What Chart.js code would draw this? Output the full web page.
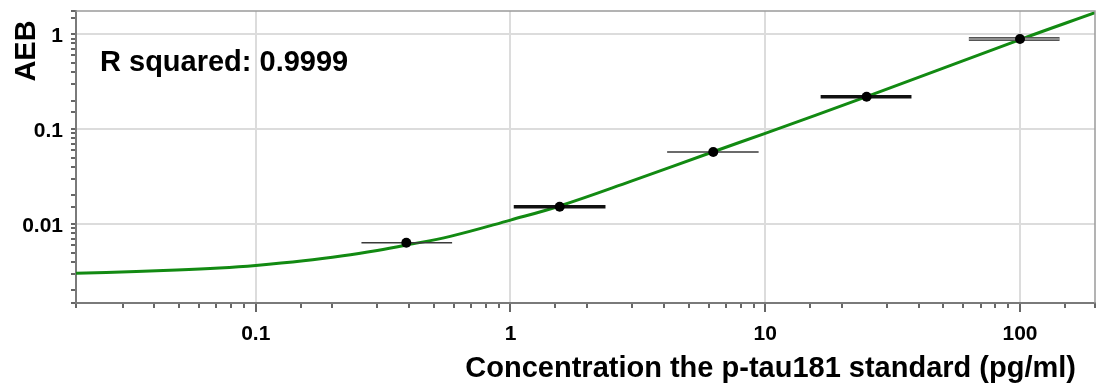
<!DOCTYPE html>
<html>
<head>
<meta charset="utf-8">
<script src="https://cdn.jsdelivr.net/npm/chart.js@4.4.1/dist/chart.umd.min.js"></script>
<style>
    html, body { margin: 0; padding: 0; background: #fff; }
    canvas { display: block; }
</style>
</head>
<body>
<canvas id="stdCurve" width="1096" height="392"></canvas>
<script>
// standard concentrations (pg/ml) and measured AEB
const concentrations = [0.39, 1.56, 6.25, 25, 100];
const aeb = [0.00635, 0.0152, 0.0574, 0.220, 0.892];
// horizontal error bars, low / high concentration
const errLow = [0.26, 1.03, 4.12, 16.5, 63];
const errHigh = [0.59, 2.36, 9.42, 37.5, 143];

// fitted curve
const fitX = [0.0197, 0.034, 0.049, 0.072, 0.1, 0.154, 0.22, 0.30, 0.39, 0.58, 1.0, 1.56, 3.0, 6.25, 10, 25, 100, 197];
const fitY = [0.00302, 0.00316, 0.00327, 0.00344, 0.00366, 0.00409, 0.00462, 0.00527, 0.00600, 0.00741, 0.0110, 0.0155, 0.0285, 0.0578, 0.0904, 0.220, 0.880, 1.69];

const xTickLabels = ['0.1', '1', '10', '100'];
const yTickLabels = ['0.01', '0.1', '1'];
const rSquared = 'R squared: 0.9999';
const xTitle = 'Concentration the p-tau181 standard (pg/ml)';
const yTitle = 'AEB';

const FONT = 'Arial, "Liberation Sans", sans-serif';

function isDecade(v) {
    const l = Math.log10(v);
    return Math.abs(l - Math.round(l)) < 1e-6;
}
function decadeLabel(v, list) {
    if (!isDecade(v)) return '';
    const e = Math.round(Math.log10(v));
    const txt = e >= 0 ? String(Math.pow(10, e)) : Math.pow(10, e).toFixed(-e);
    return list.includes(txt) ? txt : '';
}

// error bar look per standard (thin, thick, thin, thick, doubled)
const barStyle = [
    { color: '#3a3a3a', width: 1.5 },
    { color: '#111111', width: 3.5 },
    { color: '#3a3a3a', width: 1.5 },
    { color: '#111111', width: 3.5 },
    { color: '#555555', width: 4 }
];

const datasets = [];
datasets.push({
    label: 'standards',
    data: concentrations.map((c, i) => ({ x: c, y: aeb[i] })),
    backgroundColor: '#000',
    borderWidth: 0,
    pointRadius: 5,
    showLine: false
});
// inner light stroke for the doubled bar at 100 pg/ml
datasets.push({
    label: 'bar5inner',
    data: [{ x: errLow[4], y: aeb[4] }, { x: errHigh[4], y: aeb[4] }],
    borderColor: '#c8c8c8',
    borderWidth: 1.2,
    pointRadius: 0,
    showLine: true
});
concentrations.forEach((c, i) => {
    datasets.push({
        label: 'bar' + i,
        data: [{ x: errLow[i], y: aeb[i] }, { x: errHigh[i], y: aeb[i] }],
        borderColor: barStyle[i].color,
        borderWidth: barStyle[i].width,
        pointRadius: 0,
        showLine: true
    });
});
datasets.push({
    label: 'fit',
    data: fitX.map((x, i) => ({ x: x, y: fitY[i] })),
    borderColor: '#128a12',
    borderWidth: 3,
    pointRadius: 0,
    showLine: true,
    tension: 0.4
});

const textPlugin = {
    id: 'texts',
    afterDraw(chart) {
        const c = chart.ctx;
        const a = chart.chartArea;
        c.save();
        // top and right frame
        c.strokeStyle = '#9a9a9a';
        c.lineWidth = 1.5;
        c.beginPath();
        c.moveTo(a.left, a.top);
        c.lineTo(a.right, a.top);
        c.lineTo(a.right, a.bottom);
        c.stroke();

        c.fillStyle = '#000';
        c.font = 'bold 29px ' + FONT;
        c.textBaseline = 'alphabetic';
        c.textAlign = 'left';
        c.fillText(rSquared, 100, 71);
        c.textAlign = 'right';
        c.fillText(xTitle, 1076, 377);

        c.translate(35, 51);
        c.rotate(-Math.PI / 2);
        c.textAlign = 'center';
        c.fillText(yTitle, 0, 0);
        c.restore();
    }
};

const ctx = document.getElementById('stdCurve').getContext('2d');
new Chart(ctx, {
    type: 'scatter',
    data: { datasets: datasets },
    options: {
        responsive: false,
        animation: false,
        devicePixelRatio: 1,
        layout: { autoPadding: false, padding: { top: 11, right: 1, left: 0, bottom: 0 } },
        plugins: {
            legend: { display: false },
            tooltip: { enabled: false }
        },
        scales: {
            x: {
                type: 'logarithmic',
                position: 'bottom',
                min: 0.0197,
                max: 197,
                afterFit: (s) => {
                    s.height = 89;
                    s.paddingLeft = 0;
                    s.paddingRight = 0;
                },
                border: { color: '#7a7a7a', width: 2 },
                grid: {
                    color: (c) => (c.tick && isDecade(c.tick.value)) ? '#dcdcdc' : 'rgba(0,0,0,0)',
                    lineWidth: 2,
                    tickLength: 9,
                    tickColor: '#333',
                    tickWidth: 1.5,
                    tickBorderDash: (c) => (c.tick && isDecade(c.tick.value)) ? [] : [4, 40]
                },
                ticks: {
                    autoSkip: false,
                    maxRotation: 0,
                    padding: 10,
                    color: '#000',
                    font: { family: FONT, size: 21, weight: 'bold' },
                    callback: (v) => decadeLabel(v, xTickLabels)
                }
            },
            y: {
                type: 'logarithmic',
                position: 'left',
                min: 0.00147,
                max: 1.76,
                afterFit: (s) => {
                    s.width = 76;
                    s.paddingTop = 0;
                    s.paddingBottom = 0;
                },
                border: { color: '#7a7a7a', width: 2 },
                grid: {
                    color: (c) => (c.tick && isDecade(c.tick.value)) ? '#dcdcdc' : 'rgba(0,0,0,0)',
                    lineWidth: 2,
                    tickLength: 5,
                    tickColor: '#333',
                    tickWidth: 1.5
                },
                ticks: {
                    autoSkip: false,
                    padding: 8,
                    labelOffset: 2,
                    color: '#000',
                    font: { family: FONT, size: 21, weight: 'bold' },
                    callback: (v) => decadeLabel(v, yTickLabels)
                }
            }
        }
    },
    plugins: [textPlugin]
});
</script>
</body>
</html>
